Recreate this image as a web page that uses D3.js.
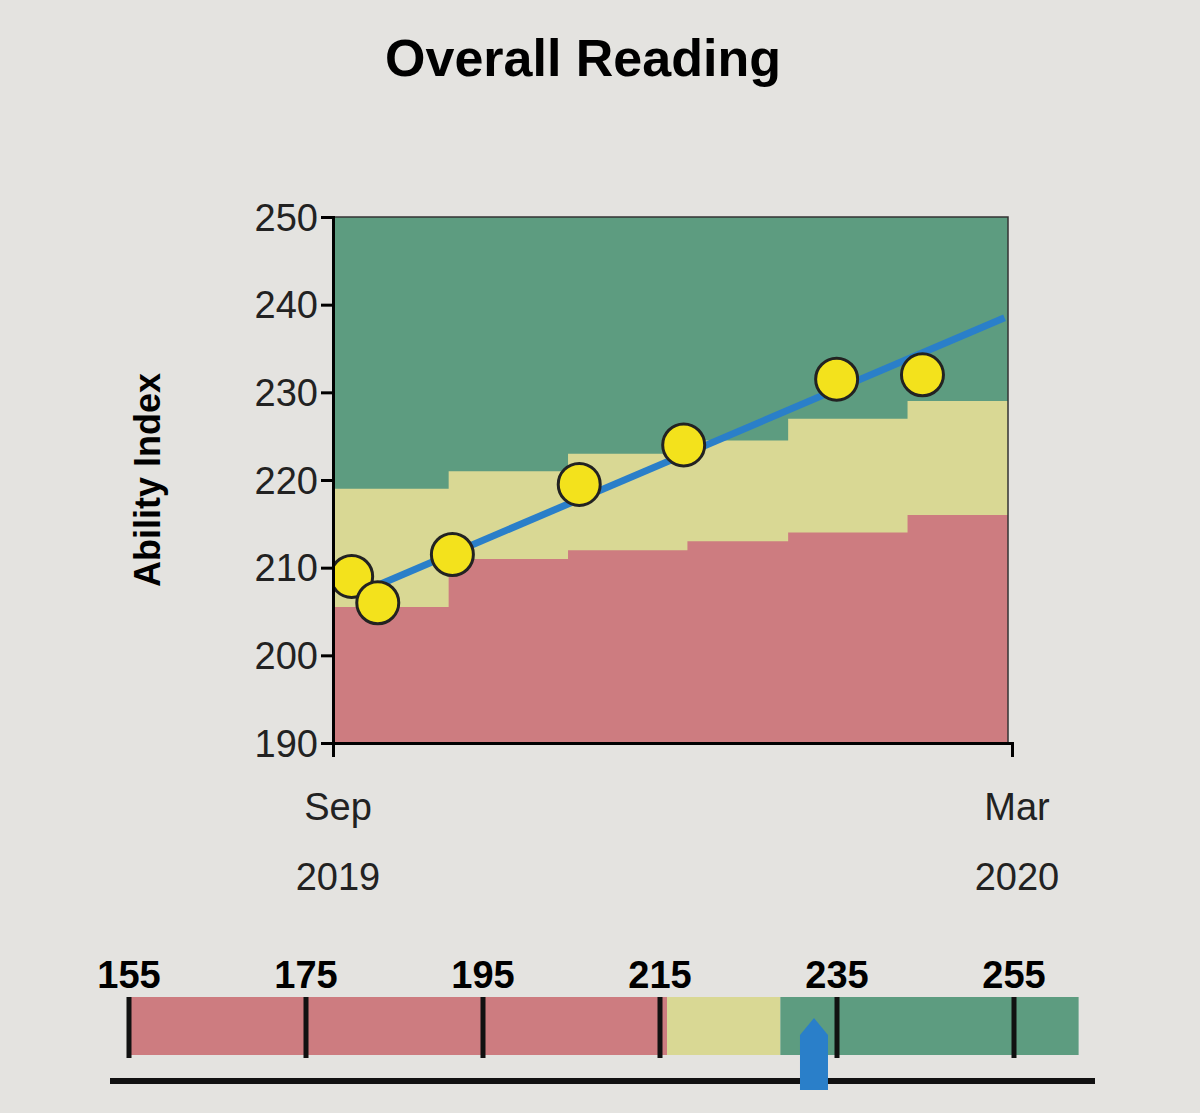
<!DOCTYPE html><html><head><meta charset="utf-8">
<script src="https://cdn.jsdelivr.net/npm/d3@7"></script>
<style>body{margin:0;background:#e4e3e0}svg{display:block}</style></head><body>
<svg id="c" width="1200" height="1113"></svg>
<script>
const yTicks=[190,200,210,220,230,240,250];
const stepDates=["2019-09-01","2019-10-02","2019-11-03","2019-12-05","2020-01-01","2020-02-02","2020-03-01"];
const lowerBound=[205.5,211,212,213,214,216,216];
const upperBound=[219,221,223,224.5,227,229,229];
const pointDates=["2019-09-06","2019-09-13","2019-10-03","2019-11-06","2019-12-04","2020-01-14","2020-02-06"];
const pointValues=[209,206,211.5,219.5,224,231.5,232];
const trendDates=["2019-09-13","2020-02-28"];
const trendValues=[208,238.5];
const scaleTicks=[155,175,195,215,235,255];
const scaleBands=[{from:155,to:215.8,c:"#cd7c80"},{from:215.8,to:228.6,c:"#d9d894"},{from:228.6,to:262.3,c:"#5d9c80"}];
const marker=232.4;

const svg=d3.select("#c");
const P=d=>new Date(d+"T00:00:00");
const x=d3.scaleTime().domain([P("2019-09-01"),P("2020-03-01")]).range([333,1012]);
const y=d3.scaleLinear().domain([190,250]).range([743,217]);
const x0=333,x1=1008;
const font="Liberation Sans, Arial, sans-serif";

svg.append("text").attr("x",583).attr("y",76).attr("text-anchor","middle").attr("font-family",font).attr("font-weight","bold").attr("font-size",52).text("Overall Reading");

svg.append("defs").append("clipPath").attr("id","cp").append("rect").attr("x",x0).attr("y",217).attr("width",x1-x0).attr("height",526);
const g=svg.append("g").attr("clip-path","url(#cp)");
g.append("rect").attr("x",x0).attr("y",217).attr("width",x1-x0).attr("height",526).attr("fill","#5d9c80");
const sd=stepDates.map(P);
const areaU=d3.area().curve(d3.curveStepAfter).x((d,i)=>x(sd[i])).y0(y(190)).y1(d=>y(d));
g.append("path").datum(upperBound).attr("d",areaU).attr("fill","#d9d894");
g.append("path").datum(lowerBound).attr("d",areaU).attr("fill","#cd7c80");
g.append("path").datum(trendValues).attr("d",d3.line().x((d,i)=>x(P(trendDates[i]))).y(d=>y(d))).attr("stroke","#2a7fc9").attr("stroke-width",7).attr("fill","none");
g.selectAll("circle").data(pointValues).join("circle").attr("cx",(d,i)=>x(P(pointDates[i]))).attr("cy",d=>y(d)).attr("r",21).attr("fill","#f3e21c").attr("stroke","#222").attr("stroke-width",3);
svg.append("rect").attr("x",x0).attr("y",217).attr("width",x1-x0).attr("height",526).attr("fill","none").attr("stroke","#333").attr("stroke-width",1.5);

const ya=svg.append("g").attr("transform",`translate(${x0},0)`).call(d3.axisLeft(y).tickValues(yTicks).tickSize(12).tickFormat(d3.format("d")));
ya.select(".domain").attr("stroke-width",3);
ya.selectAll("line").attr("stroke-width",3);
ya.selectAll("text").attr("font-family",font).attr("font-size",38).attr("fill","#222").attr("dy","0.35em");
svg.append("text").attr("transform","translate(160,480) rotate(-90)").attr("text-anchor","middle").attr("font-family",font).attr("font-weight","bold").attr("font-size",36).text("Ability Index");

const xa=svg.append("g").attr("transform","translate(0,743)").call(d3.axisBottom(x).tickValues([P("2019-09-01"),P("2020-03-01")]).tickSize(14).tickFormat(()=>""));
xa.select(".domain").attr("stroke-width",3);
xa.selectAll("line").attr("stroke-width",3);
[[P("2019-09-01"),"Sep","2019"],[P("2020-03-01"),"Mar","2020"]].forEach(([d,a,b])=>{
  const t=svg.append("text").attr("text-anchor","middle").attr("font-family",font).attr("font-size",38).attr("fill","#222");
  t.append("tspan").attr("x",x(d)+5).attr("y",820).text(a);
  t.append("tspan").attr("x",x(d)+5).attr("y",890).text(b);
});

const s=d3.scaleLinear().domain([155,255]).range([129,1014]);
scaleBands.forEach(b=>svg.append("rect").attr("x",s(b.from)).attr("y",997).attr("width",s(b.to)-s(b.from)).attr("height",58).attr("fill",b.c));
svg.selectAll(".st").data(scaleTicks).join("line").attr("x1",d=>s(d)).attr("x2",d=>s(d)).attr("y1",997).attr("y2",1058).attr("stroke","#111").attr("stroke-width",5);
svg.selectAll(".sl").data(scaleTicks).join("text").attr("x",d=>s(d)).attr("y",988).attr("text-anchor","middle").attr("font-family",font).attr("font-weight","bold").attr("font-size",38).text(d=>d);
svg.append("line").attr("x1",110).attr("x2",1095).attr("y1",1081).attr("y2",1081).attr("stroke","#111").attr("stroke-width",6);
const mx=s(marker);
svg.append("path").attr("d",`M${mx-14},1090 L${mx-14},1035 L${mx},1018 L${mx+14},1035 L${mx+14},1090 Z`).attr("fill","#2a7fc9");
</script></body></html>
